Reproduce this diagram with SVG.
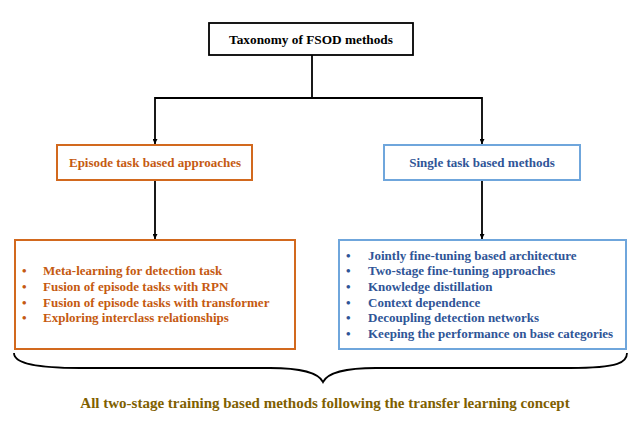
<svg xmlns="http://www.w3.org/2000/svg" width="638" height="431" viewBox="0 0 638 431">
<defs>
<style>
text{font-family:"Liberation Serif","Times New Roman",serif;font-weight:bold;font-size:13px}
.c{text-anchor:middle}
.or{fill:#C55A11}
.bl{fill:#2F5597}
.ob{fill:none;stroke:#D2691E;stroke-width:2}
.bb{fill:none;stroke:#6FA6DC;stroke-width:2}
.ln{fill:none;stroke:#000;stroke-width:1.8}
</style>
<marker id="ah" viewBox="0 0 10 10" refX="10" refY="5" markerWidth="5" markerHeight="5" orient="auto" markerUnits="userSpaceOnUse">
<path d="M0,0 L10,5 L0,10 z" fill="#000"/>
</marker>
</defs>
<rect width="638" height="431" fill="#fff"/>
<g id="connectors">
<path class="ln" d="M312,55 V98"/>
<path class="ln" d="M155,98 H482"/>
<path class="ln" d="M155,97 V144" marker-end="url(#ah)"/>
<path class="ln" d="M482,97 V144" marker-end="url(#ah)"/>
<path class="ln" d="M155,180 V239" marker-end="url(#ah)"/>
<path class="ln" d="M482,180 V239" marker-end="url(#ah)"/>
</g>
<g id="root">
<rect x="209" y="23" width="204" height="32" fill="#fff" stroke="#000" stroke-width="1.8"/>
<text class="c" x="311" y="44" style="font-size:13.3px">Taxonomy of FSOD methods</text>
</g>
<g id="episode">
<rect class="ob" x="57" y="145" width="195" height="35"/>
<text class="c or" x="155" y="167">Episode task based approaches</text>
</g>
<g id="single">
<rect class="bb" x="384" y="145" width="196" height="35"/>
<text class="c bl" x="482" y="167">Single task based methods</text>
</g>
<g id="episode-list">
<rect class="ob" x="15" y="240" width="280" height="109"/>
<g class="or">
<text x="22" y="275">•</text><text x="43" y="275">Meta-learning for detection task</text>
<text x="22" y="291">•</text><text x="43" y="291">Fusion of episode tasks with RPN</text>
<text x="22" y="307">•</text><text x="43" y="307">Fusion of episode tasks with transformer</text>
<text x="22" y="322">•</text><text x="43" y="322">Exploring interclass relationships</text>
</g>
</g>
<g id="single-list">
<rect class="bb" x="339" y="240" width="287" height="109"/>
<g class="bl">
<text x="346" y="260">•</text><text x="368" y="260">Jointly fine-tuning based architecture</text>
<text x="346" y="275">•</text><text x="368" y="275">Two-stage fine-tuning approaches</text>
<text x="346" y="291">•</text><text x="368" y="291">Knowledge distillation</text>
<text x="346" y="307">•</text><text x="368" y="307">Context dependence</text>
<text x="346" y="322">•</text><text x="368" y="322">Decoupling detection networks</text>
<text x="346" y="338">•</text><text x="368" y="338">Keeping the performance on base categories</text>
</g>
</g>
<g id="brace">
<path class="ln" d="M14,353 C14,362 30,368 80,368 H270 C300,368 318,372 323,382 C328,372 346,368 376,368 H570 C620,368 627,362 627,353"/>
<text class="c" x="325" y="408" fill="#7F6000" style="font-size:15px">All two-stage training based methods following the transfer learning concept</text>
</g>
</svg>
